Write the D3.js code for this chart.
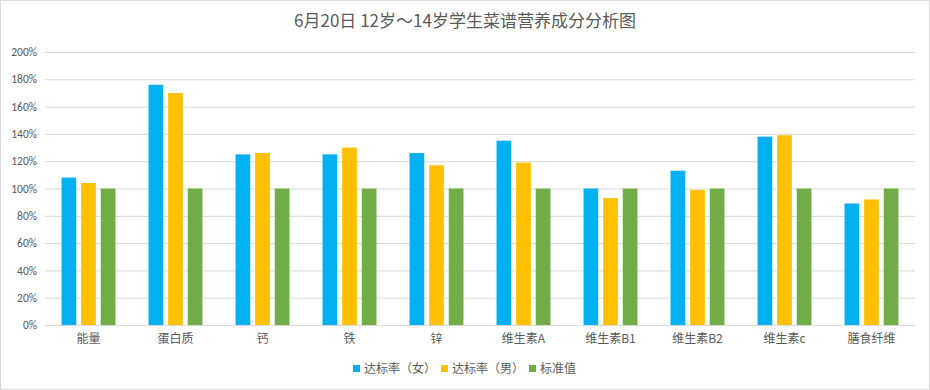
<!DOCTYPE html>
<html><head><meta charset="utf-8">
<script src="https://cdn.jsdelivr.net/npm/d3@7"></script>
<style>body{margin:0;background:#fff}svg{display:block}</style>
</head><body>
<svg id="c" width="930" height="390"></svg>
<script>
const categories = ["能量","蛋白质","钙","铁","锌","维生素A","维生素B1","维生素B2","维生素c","膳食纤维"];
const seriesNames = ["达标率（女）","达标率（男）","标准值"];
const female = [108,176,125,125,126,135,100,113,138,89];
const male   = [104,170,126,130,117,119,93,99,139,92];
const standard = [100,100,100,100,100,100,100,100,100,100];
const yTicks = [0,20,40,60,80,100,120,140,160,180,200];
const colors = ["#00b0f0","#ffc000","#70ad47"];
const title = "6月20日 12岁～14岁学生菜谱营养成分分析图";

const svg = d3.select("#c");
const W = 930, H = 390;
const m = {l:45, r:15, t:52, b:65};
const font = "'Noto Sans CJK SC', 'Liberation Sans', sans-serif";

svg.append("rect").attr("x",0.5).attr("y",0.5).attr("width",W-1).attr("height",H-1)
  .attr("fill","#fff").attr("stroke","#d9d9d9");

const x = d3.scaleBand().domain(categories).range([m.l, W-m.r]).paddingInner(0.38).paddingOuter(0.19);
const xi = d3.scaleBand().domain(seriesNames).range([0, x.bandwidth()]).paddingInner(0.25);
const y = d3.scaleLinear().domain([0,200]).range([H-m.b, m.t]);

const yAxis = d3.axisLeft(y).tickValues(yTicks).tickSize(-(W-m.l-m.r)).tickFormat(d=>d+"%");
const gy = svg.append("g").attr("transform",`translate(${m.l},0)`).call(yAxis);
gy.select(".domain").remove();
gy.selectAll(".tick line").attr("stroke","#d9d9d9").attr("stroke-width",1);
gy.selectAll(".tick text").attr("x",-8).attr("fill","#595959")
  .style("font-family","Calibri, 'Liberation Sans', 'Carlito', sans-serif").style("font-size","11.5px");

const data = [female, male, standard];
const g = svg.append("g");
categories.forEach((c, i) => {
  seriesNames.forEach((s, j) => {
    g.append("rect")
      .attr("x", x(c) + xi(s))
      .attr("width", xi.bandwidth())
      .attr("y", y(data[j][i]))
      .attr("height", y(0) - y(data[j][i]))
      .attr("fill", colors[j]);
  });
});

const xAxis = d3.axisBottom(x).tickSize(0).tickPadding(9);
const gx = svg.append("g").attr("transform",`translate(0,${y(0)})`).call(xAxis);
gx.select(".domain").attr("stroke","#d9d9d9");
gx.selectAll(".tick text").attr("fill","#595959").style("font-family",font).style("font-size","12px");

svg.append("text").attr("x",465).attr("y",27).attr("text-anchor","middle")
  .attr("fill","#595959").style("font-family",font).style("font-size","17px").text(title);

const legX = [353, 441, 529];
const lg = svg.append("g");
seriesNames.forEach((s, j) => {
  lg.append("rect").attr("x",legX[j]).attr("y",365).attr("width",7).attr("height",7).attr("fill",colors[j]);
  lg.append("text").attr("x",legX[j]+11).attr("y",373).attr("fill","#595959")
    .style("font-family",font).style("font-size","12px").text(s);
});
</script>
</body></html>
